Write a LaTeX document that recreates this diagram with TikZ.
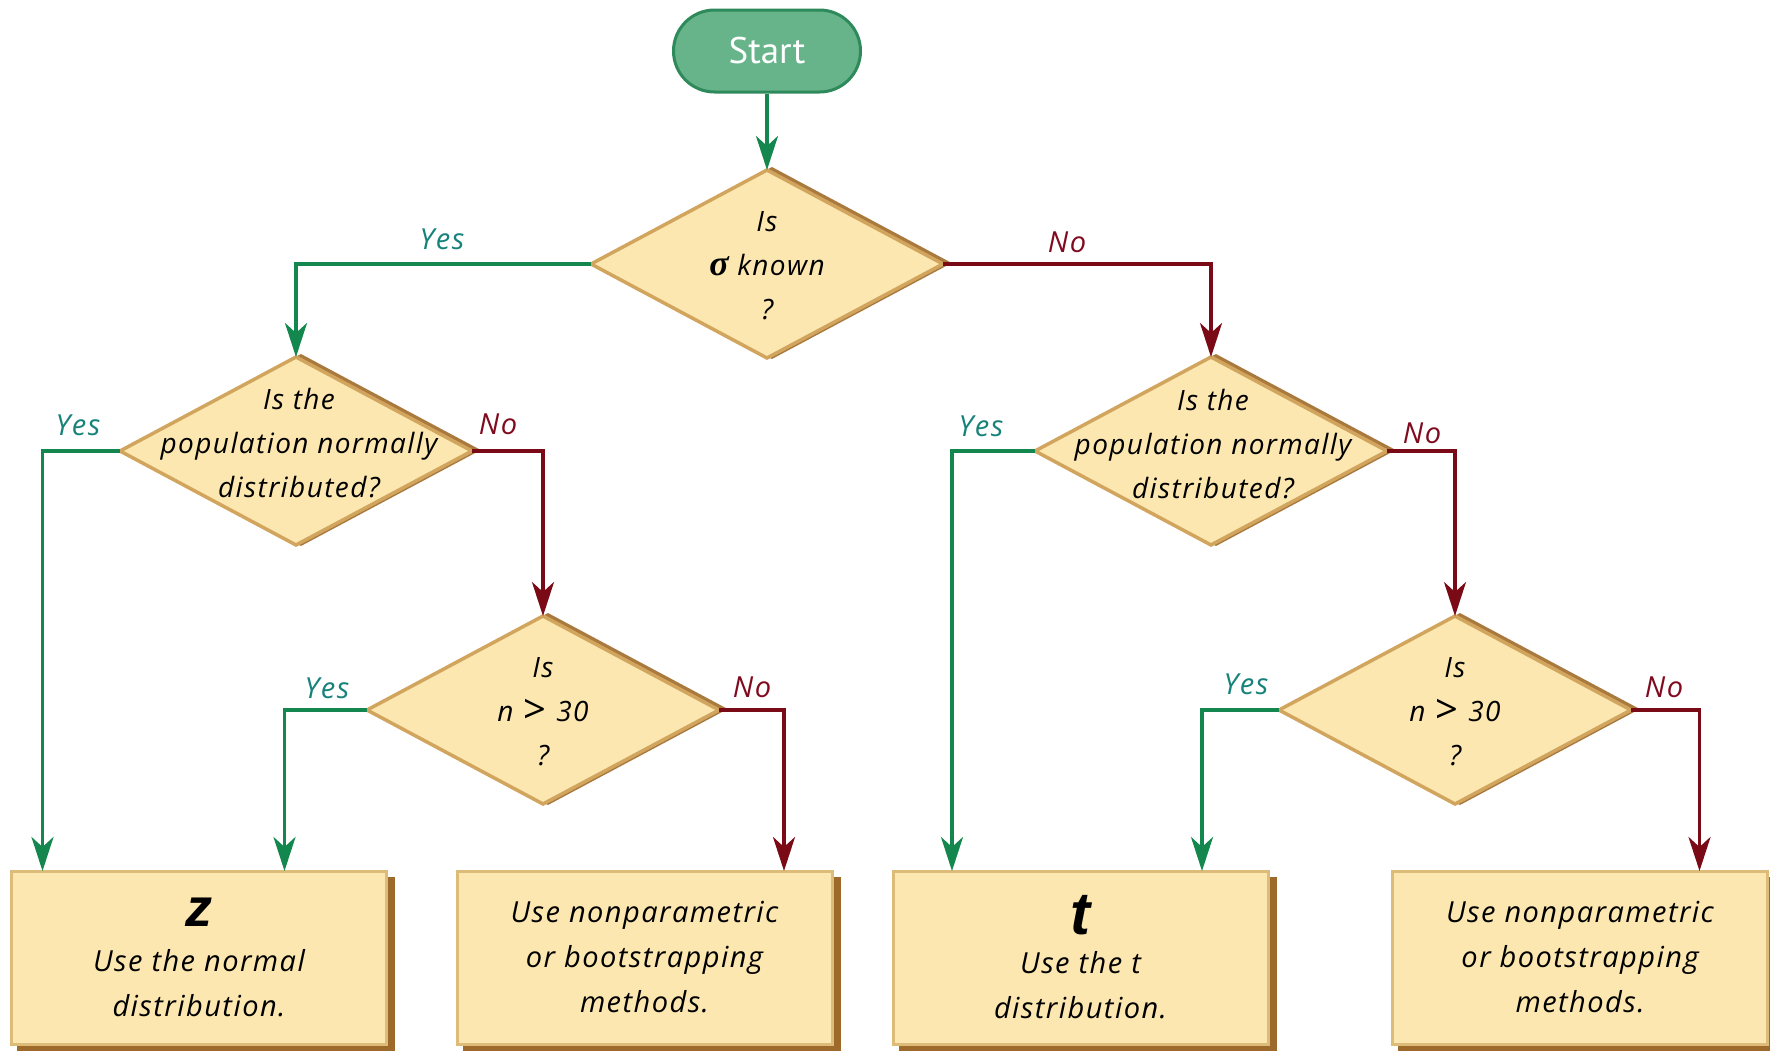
\documentclass[tikz,border=0pt]{standalone}
\usepackage{fontspec}
\setmainfont{Open Sans}[LetterSpace=5]
\newfontfamily\startfont{PT Sans}
\newfontfamily\bigfont{Liberation Sans}
\newfontfamily\sigfont{Liberation Serif}
\usetikzlibrary{shapes.geometric,arrows.meta,shadows,calc}
\definecolor{dfill}{HTML}{FBE7AF}
\definecolor{dborder}{HTML}{D2A55E}
\definecolor{dshadow}{HTML}{A9793D}
\definecolor{bborder}{HTML}{DDBB78}
\definecolor{bshadow}{HTML}{9E6A2C}
\definecolor{sfill}{HTML}{67B48A}
\definecolor{sborder}{HTML}{2E8A5A}
\definecolor{gline}{HTML}{13874D}
\definecolor{rline}{HTML}{7A0A16}
\definecolor{yescol}{HTML}{17827A}
\definecolor{nocol}{HTML}{800B1F}
\newcommand{\bigcmp}{\raisebox{-2pt}{\fontsize{40}{40}\selectfont\upshape >}}
\begin{document}
\begin{tikzpicture}[x=1pt,y=-1pt,
  decision/.style={diamond, minimum width=352pt, minimum height=188pt, inner sep=0pt, outer sep=0pt,
    fill=dfill, draw=dborder, line width=3.5pt,
    drop shadow={shadow xshift=5pt, shadow yshift=1pt, fill=dshadow, draw=dshadow, line width=3.5pt, opacity=1}},
  qtext/.style={align=center, font=\fontsize{28}{44}\selectfont\itshape, inner sep=0pt},
  outcome/.style={rectangle, minimum width=375pt, minimum height=173pt, inner sep=0pt, outer sep=0pt,
    fill=dfill, draw=bborder, line width=3pt, align=center,
    font=\fontsize{29}{45}\selectfont\itshape,
    drop shadow={shadow xshift=7pt, shadow yshift=-7pt, fill=bshadow, draw=bshadow, line width=3pt, opacity=1}},
  startbox/.style={rectangle, rounded corners=41pt, minimum width=187pt, minimum height=82pt,
    fill=sfill, draw=sborder, line width=3pt, text=white, font=\startfont\fontsize{37}{37}\selectfont},
  yesline/.style={draw=gline, line width=3.5pt, -{Stealth[length=34pt,width=22pt,inset=10pt]}},
  noline/.style={draw=rline, line width=3.5pt, -{Stealth[length=34pt,width=22pt,inset=10pt]}},
  yeslab/.style={font=\fontsize{29}{29}\selectfont\itshape, text=yescol, inner sep=0pt},
  nolab/.style={font=\fontsize{29}{29}\selectfont\itshape, text=nocol, inner sep=0pt}]
\useasboundingbox (0,0) rectangle (1770,1050);

% nodes
\node[startbox] (start) at (767,51) {Start};
\node[decision] (d1) at (767,264) {};
\node[qtext] (q1) at (767,266) {Is\\{\sigfont\bfseries\itshape\fontsize{36}{36}\selectfont σ} known\\?};

\node[decision] (d2L) at (296,451) {};
\node[qtext] (q2L) at (299,443) {Is the\\population normally\\distributed?};
\node[decision] (d2R) at (1211,451) {};
\node[qtext] (q2R) at (1213,444) {Is the\\population normally\\distributed?};

\node[decision] (d3L) at (543,710) {};
\node[qtext] (q3L) at (543,712) {Is\\n\hspace{10pt}\bigcmp\hspace{10pt}30\\?};
\node[decision] (d3R) at (1455,710) {};
\node[qtext] (q3R) at (1455,712) {Is\\n\hspace{10pt}\bigcmp\hspace{10pt}30\\?};

\node[outcome] (b1) at (199,957.5) {{\bigfont\bfseries\itshape\fontsize{54}{54}\selectfont z}\\Use the normal\\distribution.};
\node[outcome] (b2) at (644.5,957.5) {Use nonparametric\\or bootstrapping\\methods.};
\node[outcome] (b3) at (1080.5,957.5) {{\bigfont\bfseries\itshape\fontsize{60}{60}\selectfont t}\\[-6pt]Use the t\\distribution.};
\node[outcome] (b4) at (1580,957.5) {Use nonparametric\\or bootstrapping\\methods.};

% connectors
\draw[yesline] (start.south) -- (d1.north);
\draw[yesline] (d1.west) -| (d2L.north);
\draw[noline] (d1.east) -| (d2R.north);
\draw[yesline] (d2L.west) -| ($(b1.north west)+(31,0)$);
\draw[noline] (d2L.east) -| (d3L.north);
\draw[yesline] (d3L.west) -| ($(b1.north west)+(273,0)$);
\draw[noline] (d3L.east) -| ($(b2.north west)+(327,0)$);
\draw[yesline] (d2R.west) -| ($(b3.north west)+(59,0)$);
\draw[noline] (d2R.east) -| (d3R.north);
\draw[yesline] (d3R.west) -| ($(b3.north west)+(309,0)$);
\draw[noline] (d3R.east) -| ($(b4.north west)+(307,0)$);

% labels
\node[yeslab] (l1) at (442,239) {Yes};
\node[nolab] (l2) at (1067,242) {No};
\node[yeslab] (l3) at (78,425) {Yes};
\node[nolab] (l4) at (498,424) {No};
\node[yeslab] (l5) at (981,426) {Yes};
\node[nolab] (l6) at (1422,433) {No};
\node[yeslab] (l7) at (327,688) {Yes};
\node[nolab] (l8) at (752,687) {No};
\node[yeslab] (l9) at (1246,684) {Yes};
\node[nolab] (l10) at (1664,687) {No};
\end{tikzpicture}
\end{document}
